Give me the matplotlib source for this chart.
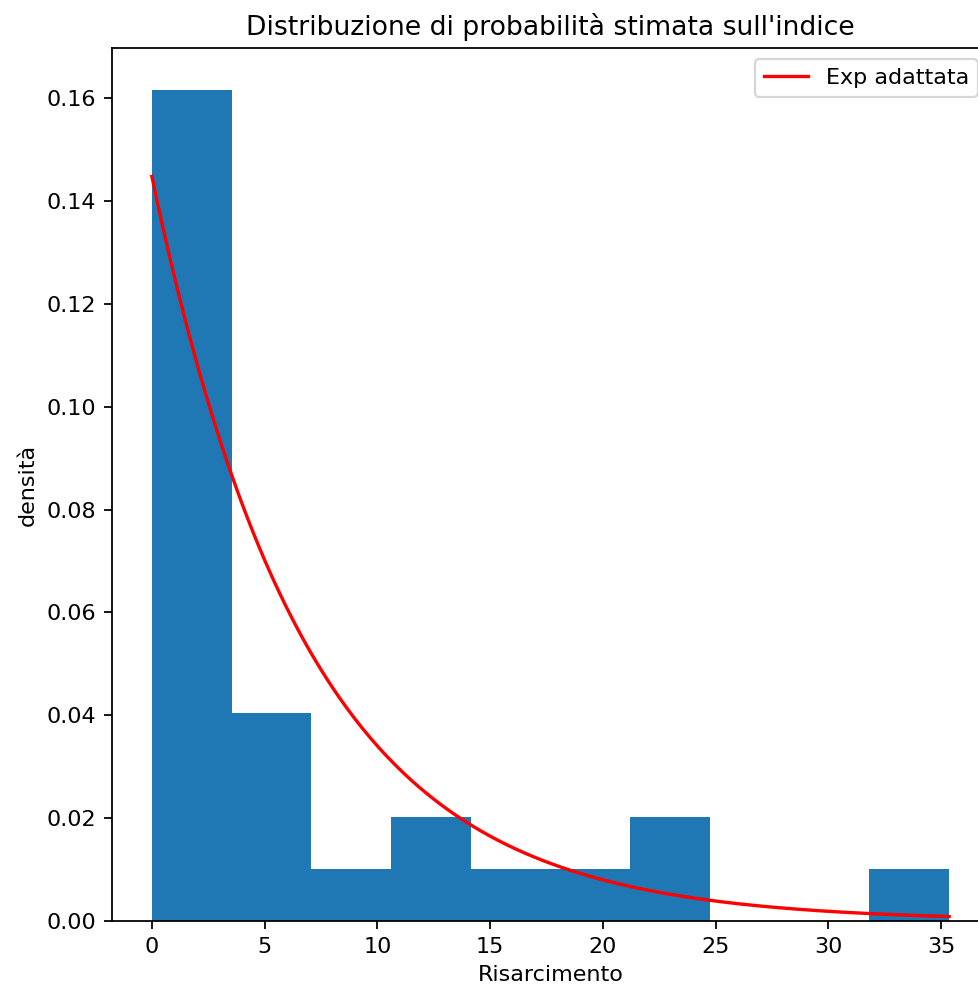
import numpy as np
import matplotlib.pyplot as plt

# istogramma (densità)
bin_edges = [0.0, 3.535, 7.07, 10.605, 14.14, 17.675, 21.21, 24.745, 28.28, 31.815, 35.35]
densita = [0.1617, 0.0404, 0.0101, 0.0202, 0.0101, 0.0101, 0.0202, 0.0, 0.0, 0.0101]

# parametro della esponenziale adattata
scala_exp = 6.906

DPI = 160
fig = plt.figure(figsize=(978 / DPI, 988 / DPI), dpi=DPI)
ax = fig.add_axes([112 / 978, 1 - 921 / 988, 877 / 978, (921 - 48) / 988])

edges = np.array(bin_edges)
ax.bar(edges[:-1], densita, width=np.diff(edges), align='edge', color='C0', linewidth=0)

x = np.linspace(0, edges[-1], 300)
ax.plot(x, np.exp(-x / scala_exp) / scala_exp, 'r', label='Exp adattata')

ax.set_title("Distribuzione di probabilità stimata sull'indice")
ax.set_xlabel("Risarcimento")
ax.set_ylabel("densità")
ax.legend(loc='upper right')

fig.savefig("out.png", dpi=DPI)
